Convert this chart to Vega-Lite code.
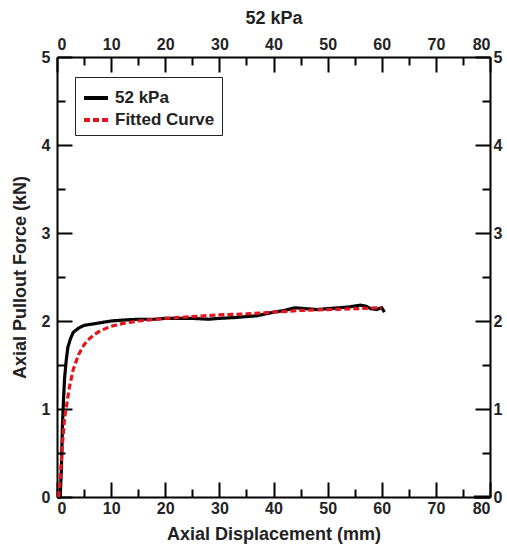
{
  "$schema": "https://vega.github.io/schema/vega-lite/v6.json",
  "width": 433,
  "height": 440,
  "autosize": {"type": "none"},
  "padding": {"left": 57, "top": 57, "right": 17, "bottom": 50},
  "background": "white",
  "config": {
    "view": {"stroke": null},
    "font": "Liberation Sans",
    "axis": {"grid": false, "domainColor": "#000", "tickColor": "#000", "labelColor": "#222", "titleColor": "#222", "labelFont": "Liberation Sans", "titleFont": "Liberation Sans", "labelFontWeight": "bold", "titleFontWeight": "bold", "labelFontSize": 16, "titleFontSize": 18, "domainWidth": 2, "tickWidth": 2}
  },
  "datasets": {
    "lines": [
      {"series": "52 kPa", "seg": "a", "x": 0, "y": 0},
      {"series": "52 kPa", "seg": "a", "x": 0.6, "y": 0},
      {"series": "52 kPa", "seg": "a", "x": 0.8, "y": 0.3},
      {"series": "52 kPa", "seg": "a", "x": 1.0, "y": 0.8},
      {"series": "52 kPa", "seg": "a", "x": 1.2, "y": 1.1},
      {"series": "52 kPa", "seg": "a", "x": 1.4, "y": 1.35},
      {"series": "52 kPa", "seg": "a", "x": 1.7, "y": 1.55},
      {"series": "52 kPa", "seg": "a", "x": 2.0, "y": 1.7},
      {"series": "52 kPa", "seg": "a", "x": 2.5, "y": 1.8},
      {"series": "52 kPa", "seg": "a", "x": 3, "y": 1.87},
      {"series": "52 kPa", "seg": "a", "x": 4, "y": 1.92},
      {"series": "52 kPa", "seg": "a", "x": 5, "y": 1.95},
      {"series": "52 kPa", "seg": "a", "x": 6, "y": 1.96},
      {"series": "52 kPa", "seg": "a", "x": 8, "y": 1.98},
      {"series": "52 kPa", "seg": "a", "x": 10, "y": 2.0},
      {"series": "52 kPa", "seg": "a", "x": 12, "y": 2.01},
      {"series": "52 kPa", "seg": "a", "x": 15, "y": 2.02},
      {"series": "52 kPa", "seg": "a", "x": 18, "y": 2.02},
      {"series": "52 kPa", "seg": "a", "x": 20, "y": 2.03},
      {"series": "52 kPa", "seg": "a", "x": 25, "y": 2.03},
      {"series": "52 kPa", "seg": "a", "x": 28, "y": 2.02},
      {"series": "52 kPa", "seg": "a", "x": 30, "y": 2.03},
      {"series": "52 kPa", "seg": "a", "x": 33, "y": 2.04},
      {"series": "52 kPa", "seg": "a", "x": 35, "y": 2.05},
      {"series": "52 kPa", "seg": "a", "x": 37, "y": 2.06},
      {"series": "52 kPa", "seg": "a", "x": 40, "y": 2.1},
      {"series": "52 kPa", "seg": "a", "x": 42, "y": 2.12},
      {"series": "52 kPa", "seg": "a", "x": 44, "y": 2.15},
      {"series": "52 kPa", "seg": "a", "x": 46, "y": 2.14},
      {"series": "52 kPa", "seg": "a", "x": 48, "y": 2.13},
      {"series": "52 kPa", "seg": "a", "x": 50, "y": 2.14},
      {"series": "52 kPa", "seg": "a", "x": 52, "y": 2.15},
      {"series": "52 kPa", "seg": "a", "x": 54, "y": 2.16},
      {"series": "52 kPa", "seg": "a", "x": 56, "y": 2.18},
      {"series": "52 kPa", "seg": "a", "x": 57, "y": 2.17},
      {"series": "52 kPa", "seg": "a", "x": 58, "y": 2.14},
      {"series": "52 kPa", "seg": "a", "x": 59, "y": 2.13},
      {"series": "52 kPa", "seg": "a", "x": 60, "y": 2.15},
      {"series": "52 kPa", "seg": "a", "x": 60.5, "y": 2.1},
      {"series": "52 kPa", "seg": "b", "x": 77, "y": 0},
      {"series": "52 kPa", "seg": "b", "x": 80, "y": 0},
      {"series": "Fitted Curve", "seg": "c", "x": 0.3, "y": 0},
      {"series": "Fitted Curve", "seg": "c", "x": 0.7, "y": 0.3},
      {"series": "Fitted Curve", "seg": "c", "x": 1.0, "y": 0.6},
      {"series": "Fitted Curve", "seg": "c", "x": 1.4, "y": 0.9},
      {"series": "Fitted Curve", "seg": "c", "x": 1.8, "y": 1.05},
      {"series": "Fitted Curve", "seg": "c", "x": 2.3, "y": 1.25},
      {"series": "Fitted Curve", "seg": "c", "x": 3, "y": 1.45},
      {"series": "Fitted Curve", "seg": "c", "x": 4, "y": 1.62},
      {"series": "Fitted Curve", "seg": "c", "x": 5, "y": 1.73},
      {"series": "Fitted Curve", "seg": "c", "x": 6, "y": 1.8},
      {"series": "Fitted Curve", "seg": "c", "x": 7, "y": 1.85},
      {"series": "Fitted Curve", "seg": "c", "x": 8, "y": 1.89},
      {"series": "Fitted Curve", "seg": "c", "x": 10, "y": 1.94},
      {"series": "Fitted Curve", "seg": "c", "x": 12, "y": 1.97},
      {"series": "Fitted Curve", "seg": "c", "x": 15, "y": 2.0},
      {"series": "Fitted Curve", "seg": "c", "x": 20, "y": 2.03},
      {"series": "Fitted Curve", "seg": "c", "x": 25, "y": 2.05},
      {"series": "Fitted Curve", "seg": "c", "x": 30, "y": 2.07},
      {"series": "Fitted Curve", "seg": "c", "x": 35, "y": 2.08},
      {"series": "Fitted Curve", "seg": "c", "x": 40, "y": 2.1},
      {"series": "Fitted Curve", "seg": "c", "x": 45, "y": 2.12},
      {"series": "Fitted Curve", "seg": "c", "x": 50, "y": 2.13},
      {"series": "Fitted Curve", "seg": "c", "x": 55, "y": 2.14},
      {"series": "Fitted Curve", "seg": "c", "x": 60, "y": 2.15}
    ]
  },
  "data": {"name": "lines"},
  "resolve": {"axis": {"x": "independent", "y": "independent"}},
  "layer": [
    {
      "mark": {"type": "line", "strokeWidth": 3.2, "strokeCap": "butt"},
      "encoding": {
        "x": {"field": "x", "type": "quantitative", "scale": {"domain": [0, 80], "nice": false, "zero": false},
          "axis": {"orient": "bottom", "values": [0, 10, 20, 30, 40, 50, 60, 70, 80], "tickSize": -15, "labelPadding": 18, "title": "Axial Displacement (mm)", "titlePadding": 9}},
        "y": {"field": "y", "type": "quantitative", "scale": {"domain": [0, 5], "nice": false, "zero": false},
          "axis": {"orient": "left", "values": [0, 1, 2, 3, 4, 5], "tickSize": -15, "labelPadding": 22, "title": "Axial Pullout Force (kN)", "titlePadding": 12}},
        "detail": {"field": "seg"},
        "color": {"field": "series", "type": "nominal", "scale": {"domain": ["52 kPa", "Fitted Curve"], "range": ["#000000", "#e3141b"]},
          "legend": {"title": null, "orient": "none", "legendX": 18, "legendY": 20, "padding": 7, "strokeColor": "#222", "symbolType": "stroke", "symbolSize": 576, "symbolStrokeWidth": 4, "labelFontSize": 17, "labelFontWeight": "bold", "labelColor": "#222", "labelFont": "Liberation Sans", "rowPadding": -1, "labelOffset": 5}},
        "strokeDash": {"field": "series", "type": "nominal", "scale": {"domain": ["52 kPa", "Fitted Curve"], "range": [[1, 0], [6, 3]]},
          "legend": {"title": null, "orient": "none", "legendX": 18, "legendY": 20, "padding": 7, "strokeColor": "#222", "symbolType": "stroke", "symbolSize": 576, "symbolStrokeWidth": 4, "labelFontSize": 17, "labelFontWeight": "bold", "labelColor": "#222", "labelFont": "Liberation Sans", "rowPadding": -1, "labelOffset": 5}}
      }
    },
    {
      "mark": {"type": "point", "opacity": 0},
      "encoding": {
        "x": {"field": "x", "type": "quantitative", "scale": {"domain": [0, 80], "nice": false, "zero": false},
          "axis": {"orient": "top", "values": [0, 10, 20, 30, 40, 50, 60, 70, 80], "tickSize": -15, "labelPadding": 20, "title": "52 kPa", "titlePadding": 9}},
        "y": {"field": "y", "type": "quantitative", "scale": {"domain": [0, 5], "nice": false, "zero": false},
          "axis": {"orient": "right", "values": [0, 1, 2, 3, 4, 5], "tickSize": -15, "labelPadding": 18, "title": null}}
      }
    },
    {
      "mark": {"type": "point", "opacity": 0},
      "encoding": {
        "x": {"field": "x", "type": "quantitative", "scale": {"domain": [0, 80], "nice": false, "zero": false},
          "axis": {"orient": "bottom", "values": [5, 15, 25, 35, 45, 55, 65, 75], "tickSize": -8, "labels": false, "domain": false, "title": null}},
        "y": {"field": "y", "type": "quantitative", "scale": {"domain": [0, 5], "nice": false, "zero": false},
          "axis": {"orient": "left", "values": [0.5, 1.5, 2.5, 3.5, 4.5], "tickSize": -8, "labels": false, "domain": false, "title": null}}
      }
    },
    {
      "mark": {"type": "point", "opacity": 0},
      "encoding": {
        "x": {"field": "x", "type": "quantitative", "scale": {"domain": [0, 80], "nice": false, "zero": false},
          "axis": {"orient": "top", "values": [5, 15, 25, 35, 45, 55, 65, 75], "tickSize": -8, "labels": false, "domain": false, "title": null}},
        "y": {"field": "y", "type": "quantitative", "scale": {"domain": [0, 5], "nice": false, "zero": false},
          "axis": {"orient": "right", "values": [0.5, 1.5, 2.5, 3.5, 4.5], "tickSize": -8, "labels": false, "domain": false, "title": null}}
      }
    }
  ]
}
